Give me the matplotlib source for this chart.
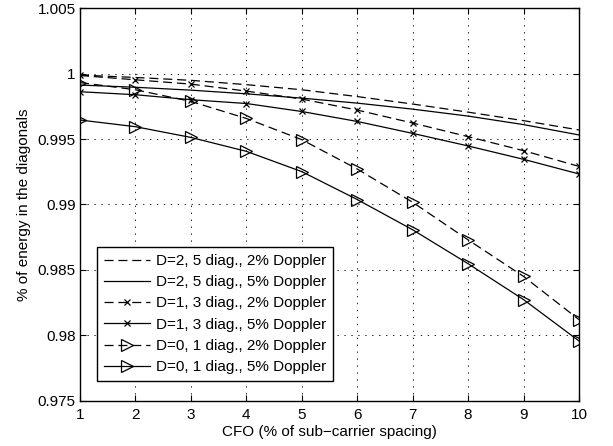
import matplotlib
matplotlib.use('Agg')
import matplotlib.pyplot as plt
import numpy as np

plt.rcParams['font.family'] = ['Liberation Sans', 'DejaVu Sans']
plt.rcParams['lines.scale_dashes'] = False

# CFO in % of sub-carrier spacing
cfo = [1, 2, 3, 4, 5, 6, 7, 8, 9, 10]

# % of energy in the diagonals
d2_dop2 = [0.99988, 0.99970, 0.99948, 0.99915, 0.99876, 0.99824, 0.99767, 0.99705, 0.99640, 0.99569]
d2_dop5 = [0.99912, 0.99895, 0.99873, 0.99845, 0.99812, 0.99774, 0.99728, 0.99675, 0.99610, 0.99531]
d1_dop2 = [0.99985, 0.99952, 0.99919, 0.99866, 0.99805, 0.99721, 0.99622, 0.99518, 0.99411, 0.99291]
d1_dop5 = [0.99861, 0.99838, 0.99800, 0.99771, 0.99710, 0.99634, 0.99543, 0.99447, 0.99345, 0.99233]
d0_dop2 = [0.99931, 0.99876, 0.99787, 0.99657, 0.99495, 0.99271, 0.99017, 0.98730, 0.98451, 0.98121]
d0_dop5 = [0.99645, 0.99594, 0.99512, 0.99406, 0.99251, 0.99038, 0.98807, 0.98548, 0.98274, 0.97958]

labels = ['D=2, 5 diag., 2% Doppler', 'D=2, 5 diag., 5% Doppler',
          'D=1, 3 diag., 2% Doppler', 'D=1, 3 diag., 5% Doppler',
          'D=0, 1 diag., 2% Doppler', 'D=0, 1 diag., 5% Doppler']

yticks = [0.975, 0.98, 0.985, 0.99, 0.995, 1.0, 1.005]
ytick_labels = ['0.975', '0.98', '0.985', '0.99', '0.995', '1', '1.005']

fig = plt.figure(figsize=(6.13, 4.46), dpi=100)
ax = fig.add_axes([0.1305, 0.101, 0.814, 0.881])

dash = (6.5, 3.5)
lw = 0.9
ax.plot(cfo, d2_dop2, color='k', lw=lw, dashes=dash, label=labels[0])
ax.plot(cfo, d2_dop5, color='k', lw=lw, label=labels[1])
ax.plot(cfo, d1_dop2, color='k', lw=lw, dashes=dash, marker='x', ms=5, mew=0.9, label=labels[2])
ax.plot(cfo, d1_dop5, color='k', lw=lw, marker='x', ms=5, mew=0.9, label=labels[3])
ax.plot(cfo, d0_dop2, color='k', lw=lw, dashes=dash, marker='>', ms=8, mfc='none', mew=0.9, label=labels[4])
ax.plot(cfo, d0_dop5, color='k', lw=lw, marker='>', ms=8, mfc='none', mew=0.9, label=labels[5])

ax.set_xlim(1, 10)
ax.set_ylim(0.975, 1.005)
ax.set_xticks(cfo)
ax.set_yticks(yticks)
ax.set_yticklabels(ytick_labels)
ax.tick_params(direction='in', top=True, right=True, labelsize=11, length=4, width=0.8)
ax.tick_params(axis='x', pad=5)
ax.tick_params(axis='y', pad=3)
for s in ax.spines.values():
    s.set_linewidth(1.0)
ax.grid(True, color='k', linestyle=(0, (1, 4)), linewidth=0.6)

ax.set_xlabel('CFO (% of sub\u2212carrier spacing)', fontsize=11, labelpad=2)
ax.set_ylabel('% of energy in the diagonals', fontsize=11, labelpad=5)

leg = ax.legend(loc='lower left', bbox_to_anchor=(0.035, 0.051), fontsize=11,
                handlelength=3.0, handletextpad=0.4, labelspacing=0.47,
                borderaxespad=0, borderpad=0.45, fancybox=False, framealpha=1)
leg.get_frame().set_edgecolor('k')
leg.get_frame().set_linewidth(1.0)

fig.savefig('out.png', dpi=100)
